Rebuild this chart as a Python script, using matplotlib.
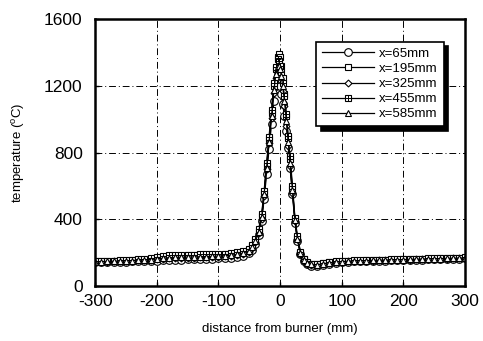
import matplotlib
matplotlib.use("Agg")
import matplotlib.pyplot as plt
from matplotlib.legend_handler import HandlerTuple

plt.rcParams['font.family'] = ['Liberation Sans', 'DejaVu Sans']
plt.rcParams['mathtext.fontset'] = 'custom'
plt.rcParams['mathtext.rm'] = 'Liberation Sans'
plt.rcParams['mathtext.it'] = 'Liberation Sans'
plt.rcParams['axes.unicode_minus'] = False

# distance from burner (mm), shared by all series
x = [-300, -290, -280, -270, -260, -250, -240, -230, -220, -210, -200, -190, -180,
     -170, -160, -150, -140, -130, -120, -110, -100, -90, -80, -70, -60,
     -50, -45, -40, -35, -30, -26, -22, -18, -14, -10, -7, -4, -2, 0, 2, 4, 7,
     10, 13, 16, 20, 24, 28, 33, 38, 44, 50,
     60, 70, 80, 90, 100, 110, 120, 130, 140, 150, 160, 170, 180, 190, 200,
     210, 220, 230, 240, 250, 260, 270, 280, 290, 300]

t_65 = [142, 143, 144, 145, 146, 147, 148, 149, 150, 151, 153, 155, 157, 158, 159,
        160, 161, 162, 163, 164, 166, 168, 171, 175, 182,
        196, 215, 250, 305, 390, 520, 670, 820, 970, 1110, 1200, 1250, 1240, 1200,
        1150, 1090, 1020, 930, 830, 710, 550, 380, 270, 190, 150, 130, 122,
        120, 128, 135, 140, 143, 146, 148, 149, 150, 151, 152, 153, 154, 155, 156,
        157, 158, 159, 160, 161, 162, 163, 164, 165, 166]
t_195 = [148, 149, 150, 151, 152, 153, 155, 157, 159, 162, 168, 176, 180, 182, 183,
         184, 185, 186, 187, 188, 189, 191, 194, 198, 205,
         218, 240, 275, 330, 420, 560, 720, 880, 1040, 1200, 1300, 1370, 1390, 1370,
         1320, 1250, 1150, 1020, 890, 760, 580, 400, 290, 200, 160, 140, 132,
         130, 136, 142, 146, 149, 151, 152, 153, 154, 155, 156, 157, 158, 159, 160,
         161, 162, 163, 164, 165, 166, 167, 168, 169, 170]
t_325 = [145, 146, 147, 148, 149, 150, 152, 154, 156, 158, 161, 164, 166, 168, 169,
         170, 171, 172, 173, 174, 176, 178, 181, 186, 193,
         206, 228, 262, 318, 405, 540, 700, 855, 1010, 1160, 1250, 1300, 1300, 1280,
         1230, 1170, 1080, 960, 840, 720, 560, 390, 280, 195, 155, 135, 127,
         125, 132, 139, 143, 146, 148, 150, 151, 152, 153, 154, 155, 156, 157, 158,
         159, 160, 161, 162, 163, 164, 165, 166, 167, 168]
t_455 = [150, 151, 152, 153, 155, 156, 158, 160, 163, 166, 172, 180, 184, 186, 187,
         188, 189, 190, 191, 192, 193, 195, 198, 203, 210,
         224, 246, 282, 340, 430, 570, 735, 895, 1055, 1215, 1310, 1360, 1350, 1320,
         1280, 1220, 1140, 1030, 900, 780, 600, 410, 300, 205, 165, 143, 135,
         133, 139, 145, 148, 151, 153, 154, 155, 156, 157, 158, 159, 160, 161, 162,
         163, 164, 165, 166, 167, 168, 169, 170, 171, 172]
t_585 = [146, 147, 148, 149, 150, 151, 153, 155, 157, 159, 163, 167, 170, 172, 173,
         174, 175, 176, 177, 178, 180, 182, 185, 190, 198,
         212, 234, 268, 324, 412, 550, 710, 865, 1020, 1175, 1270, 1320, 1320, 1300,
         1260, 1200, 1110, 990, 865, 740, 575, 395, 285, 198, 158, 138, 130,
         128, 134, 140, 144, 147, 149, 151, 152, 153, 154, 155, 156, 157, 158, 159,
         160, 161, 162, 163, 164, 165, 166, 167, 168, 169]

labels = ["x=65mm", "x=195mm", "x=325mm", "x=455mm", "x=585mm"]
series = [t_65, t_195, t_325, t_455, t_585]
markers = ["o", "s", "D", "s", "^"]
msizes = [5.5, 4.5, 3.5, 4.5, 4.5]

fig = plt.figure(figsize=(4.83, 3.41), dpi=100)
ax = fig.add_axes([0.197, 0.161, 0.766, 0.783])

handles = []
for y, lab, m, ms in zip(series, labels, markers, msizes):
    h, = ax.plot(x, y, color="k", lw=0.9, marker=m, ms=ms, mfc="white",
                 mec="k", mew=0.8)
    if lab == "x=455mm":
        h2, = ax.plot(x, y, ls="none", marker="+", ms=ms, mec="k", mew=0.7)
        handles.append((h, h2))
    else:
        handles.append(h)

ax.set_xlim(-300, 300)
ax.set_ylim(0, 1600)
ax.set_xticks([-300, -200, -100, 0, 100, 200, 300])
ax.set_yticks([0, 400, 800, 1200, 1600])
ax.tick_params(labelsize=12.5, direction="in", length=3, width=1)
ax.tick_params(axis="y", pad=9)
ax.tick_params(axis="x", pad=6)
for s in ax.spines.values():
    s.set_linewidth(1.8)

for v in [-200, -100, 0, 100, 200]:
    ax.axvline(v, color="k", lw=0.7, ls=(0, (7, 3, 1, 3)), zorder=0)
for v in [400, 800, 1200]:
    ax.axhline(v, color="k", lw=0.7, ls=(0, (7, 3, 1, 3)), zorder=0)

ax.set_xlabel("distance from burner (mm)", fontsize=9.5, labelpad=10)
ax.set_ylabel(r"temperature ($^{\rm o}$C)", fontsize=9.5, labelpad=12)

leg = ax.legend(handles, labels, loc="upper right", bbox_to_anchor=(0.96, 0.94),
                fontsize=9.5, handlelength=3.9, numpoints=1, fancybox=False,
                framealpha=1, edgecolor="k", borderpad=0.45, labelspacing=0.22,
                handletextpad=0.4,
                handler_map={tuple: HandlerTuple(ndivide=1)},
                shadow={"color": "k", "alpha": 1, "ox": 3, "oy": -3})
leg.get_frame().set_linewidth(1.2)

fig.savefig("out.png", dpi=100)
